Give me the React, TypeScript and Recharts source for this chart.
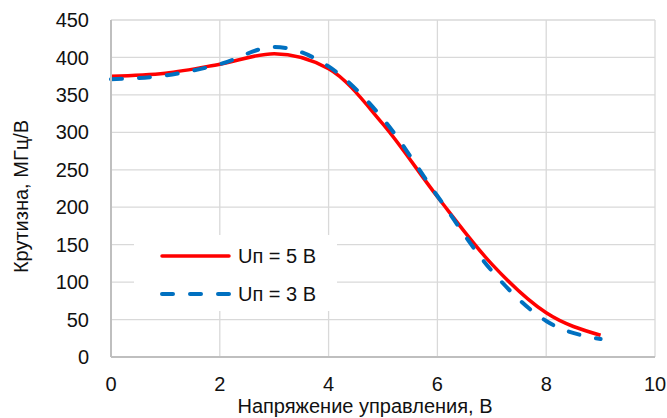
import React from 'react';
import {
  LineChart, Line, XAxis, YAxis, CartesianGrid, Label,
} from 'recharts';

// ── Data ───────────────────────────────────────────────────────
const controlVoltage = [0, 1, 2, 3, 4, 5, 6, 7, 8, 9];
const slopeU5 = [375, 379, 391, 405, 385, 311, 214, 124, 59, 29];
const slopeU3 = [371, 376, 391, 414, 388, 318, 215, 115, 48, 24];

const xTicks = [0, 2, 4, 6, 8, 10];
const yTicks = [0, 50, 100, 150, 200, 250, 300, 350, 400, 450];

const seriesNames = ['Uп = 5 В', 'Uп = 3 В'];

const data = controlVoltage.map((x, i) => ({ x, u5: slopeU5[i], u3: slopeU3[i] }));

const FONT = '"Liberation Sans", Arial, sans-serif';
const RED = '#ff0000';
const BLUE = '#0070c0';

// ── Legend (inside plot, white box overlay) ────────────────────
function ChartLegend() {
  const rows = [
    { name: seriesNames[0], color: RED, dash: undefined },
    { name: seriesNames[1], color: BLUE, dash: '11 17' },
  ];
  return (
    <div style={{
      position: 'absolute', left: 134, top: 235, width: 203, height: 76, background: '#fff',
    }}>
      {rows.map((r, i) => (
        <div key={r.name} style={{
          position: 'absolute', left: 0, top: 10 + i * 38, height: 22,
          display: 'flex', alignItems: 'center',
        }}>
          <svg width={104} height={22} style={{ display: 'block' }}>
            <line x1={28} y1={11} x2={95} y2={11} stroke={r.color}
              strokeWidth={r.dash ? 4 : 3.5} strokeDasharray={r.dash}
              strokeLinecap="round" />
          </svg>
          <span style={{ fontFamily: FONT, fontSize: 20, color: '#111' }}>{r.name}</span>
        </div>
      ))}
    </div>
  );
}

export default function App() {
  return (
    <div style={{ position: 'absolute', left: 0, top: 0, width: 667, height: 418, background: '#fff' }}>
      <LineChart width={667} height={418} data={data}
        margin={{ top: 20, right: 12, left: 0, bottom: 0 }}>
        <CartesianGrid stroke="#d9d9d9" strokeWidth={1.3} />
        <XAxis
          dataKey="x" type="number" domain={[0, 10]} ticks={xTicks}
          interval={0} height={61} tickSize={0} tickMargin={20}
          tick={{ fontSize: 20, fill: '#111', fontFamily: FONT }}
          axisLine={{ stroke: '#bfbfbf', strokeWidth: 2 }} tickLine={false}
        >
          <Label value="Напряжение управления, В" position="insideBottom" offset={5} dx={-18}
            style={{ fontSize: 20, fill: '#111', fontFamily: FONT }} />
        </XAxis>
        <YAxis
          type="number" domain={[0, 450]} ticks={yTicks} interval={0}
          width={111} tickSize={0} tickMargin={22}
          tick={{ fontSize: 20, fill: '#111', fontFamily: FONT }}
          axisLine={{ stroke: '#bfbfbf', strokeWidth: 2 }} tickLine={false}
        >
          <Label value="Крутизна, МГц/В" angle={-90} position="insideLeft" offset={21} dy={8}
            style={{ fontSize: 20, fill: '#111', fontFamily: FONT, textAnchor: 'middle' }} />
        </YAxis>
        <Line type="monotone" dataKey="u5" name={seriesNames[0]} stroke={RED}
          strokeWidth={3.5} dot={false} isAnimationActive={false} />
        <Line type="monotone" dataKey="u3" name={seriesNames[1]} stroke={BLUE}
          strokeWidth={4} strokeDasharray="11 17" strokeLinecap="round"
          dot={false} isAnimationActive={false} />
      </LineChart>
      <ChartLegend />
    </div>
  );
}
